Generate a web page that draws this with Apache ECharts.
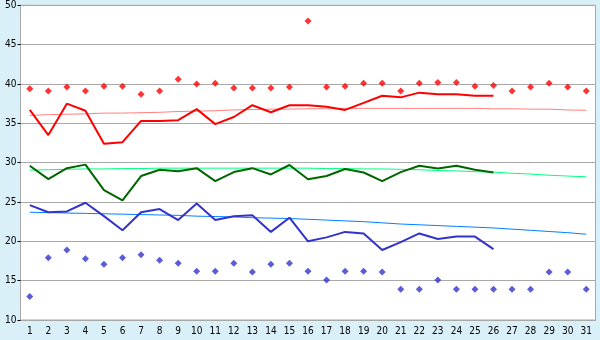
<!DOCTYPE html>
<html><head><meta charset="utf-8">
<script src="https://cdn.jsdelivr.net/npm/echarts@6/dist/echarts.min.js"></script>
<style>html,body{margin:0;padding:0;background:#DAF0F8;}#c{width:600px;height:340px;}</style>
</head><body><div id="c"></div>
<script>
const categories = ['1','2','3','4','5','6','7','8','9','10','11','12','13','14','15','16','17','18','19','20','21','22','23','24','25','26','27','28','29','30','31'];
const maxPoints = [39.4,39.1,39.6,39.1,39.7,39.7,38.7,39.1,40.6,40.0,40.1,39.5,39.5,39.5,39.6,48.0,39.6,39.7,40.1,40.1,39.1,40.1,40.2,40.2,39.7,39.8,39.1,39.6,40.1,39.6,39.1];
const maxLine = [36.7,33.5,37.5,36.6,32.4,32.6,35.3,35.3,35.4,36.8,34.9,35.8,37.3,36.4,37.3,37.3,37.1,36.7,37.6,38.5,38.3,38.9,38.7,38.7,38.5,38.5];
const maxTrend = [36.0,36.1,36.15,36.2,36.3,36.3,36.35,36.4,36.5,36.55,36.6,36.7,36.75,36.8,36.8,36.85,36.85,36.9,36.9,36.9,36.9,36.9,36.9,36.9,36.9,36.85,36.85,36.8,36.8,36.7,36.65];
const meanLine = [29.6,27.9,29.3,29.75,26.5,25.2,28.3,29.1,28.9,29.3,27.65,28.8,29.3,28.5,29.7,27.9,28.3,29.2,28.75,27.65,28.8,29.6,29.25,29.6,29.1,28.75];
const meanTrend = [29.05,29.1,29.15,29.2,29.2,29.25,29.25,29.3,29.3,29.3,29.3,29.3,29.3,29.3,29.3,29.3,29.25,29.25,29.2,29.2,29.15,29.1,29.0,28.95,28.85,28.8,28.65,28.55,28.4,28.3,28.2];
const minLine = [24.6,23.7,23.8,24.9,23.2,21.4,23.7,24.1,22.7,24.8,22.7,23.2,23.3,21.2,23.0,20.0,20.5,21.2,21.0,18.9,19.9,21.0,20.3,20.6,20.6,19.0];
const minTrend = [23.7,23.65,23.6,23.55,23.5,23.45,23.4,23.35,23.3,23.2,23.15,23.1,23.0,22.95,22.9,22.8,22.7,22.6,22.5,22.35,22.2,22.1,22.0,21.9,21.8,21.7,21.55,21.4,21.25,21.1,20.9];
const minPoints = [13.0,17.9,18.9,17.8,17.1,17.9,18.3,17.6,17.2,16.2,16.2,17.2,16.1,17.1,17.2,16.2,15.1,16.2,16.2,16.1,13.9,13.9,15.1,13.9,13.9,13.9,13.9,13.9,16.1,16.1,13.9];
const yTicks = {min:10, max:50, interval:5};

const font = {fontFamily:'"DejaVu Sans Condensed","DejaVu Sans",sans-serif', fontSize:10, color:'#000'};
const chart = echarts.init(document.getElementById('c'), null, {renderer:'canvas'});
const lineS = (data,color,w,z)=>({type:'line',data,showSymbol:false,symbol:'none',lineStyle:{color,width:w},itemStyle:{color},z,animation:false,silent:true});
const pts = (data,color)=>({type:'scatter',data,symbol:'diamond',symbolSize:7,itemStyle:{color},z:5,animation:false,silent:true});
chart.setOption({
  backgroundColor:'#DAF0F8',
  animation:false,
  grid:{left:20.5,right:4.5,top:5.3,bottom:20,show:true,backgroundColor:'#fff',borderColor:'#A8A8A8',borderWidth:1,containLabel:false},
  xAxis:{type:'category',data:categories,boundaryGap:true,
    axisLine:{lineStyle:{color:'#A8A8A8'}},
    axisTick:{alignWithLabel:true,length:4,lineStyle:{color:'#000'}},
    axisLabel:Object.assign({margin:6,interval:0},font),splitLine:{show:false}},
  yAxis:{type:'value',min:yTicks.min,max:yTicks.max,interval:yTicks.interval,
    axisLine:{show:true,lineStyle:{color:'#A8A8A8'}},
    axisTick:{show:true,length:3,lineStyle:{color:'#000'}},
    axisLabel:Object.assign({margin:4},font),
    splitLine:{lineStyle:{color:'#A8A8A8',width:1}}},
  series:[
    lineS(maxTrend,'#FF8080',1,2),
    lineS(meanTrend,'#00FF80',1,2),
    lineS(minTrend,'#0080FF',1,2),
    lineS(maxLine,'#FF0000',2,3),
    lineS(meanLine,'#006600',2,3),
    lineS(minLine,'#3333CC',2,3),
    pts(maxPoints,'#FF0000'),
    pts(minPoints,'#3333CC')
  ]
});
</script></body></html>
